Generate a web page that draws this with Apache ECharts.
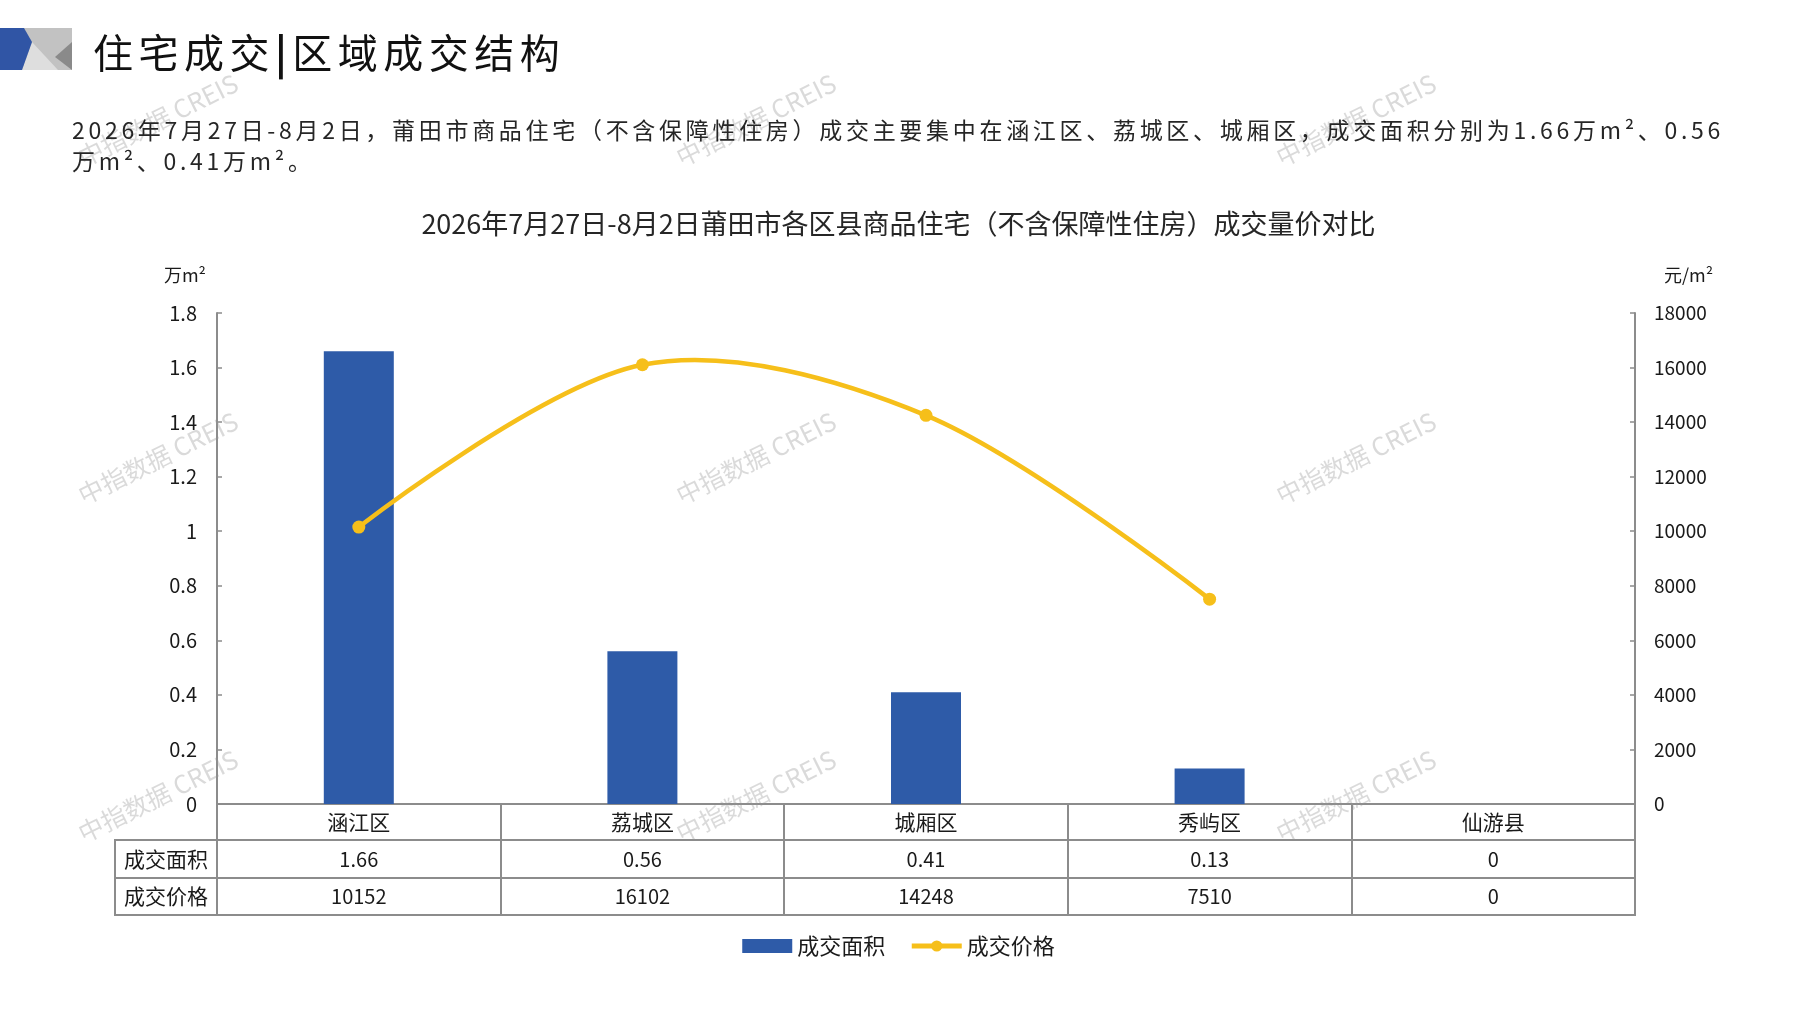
<!DOCTYPE html>
<html lang="zh">
<head>
<meta charset="UTF-8">
<title>区域成交结构</title>
<style>
    html, body {
        margin: 0;
        padding: 0;
        background: #fff;
    }

    #main {
        position: absolute;
        left: 0;
        top: 0;
        width: 1797px;
        height: 1010px;
    }

    .head {
        position: absolute;
        font-family: "Noto Sans CJK SC", "Noto Sans", sans-serif;
        white-space: nowrap;
    }
</style>
<script src="https://cdn.jsdelivr.net/npm/echarts@6/dist/echarts.min.js"></script>
</head>
<body>
<div id="main"></div>
<div class="head" style="left:93px;top:24px;font-size:40px;line-height:54px;letter-spacing:5.5px;color:#111;">住宅成交<b>|</b>区域成交结构</div>
<div class="head" style="left:72px;top:114px;font-size:23px;line-height:31px;letter-spacing:3.7px;color:#262626;">2026年7月27日-8月2日，莆田市商品住宅（不含保障性住房）成交主要集中在涵江区、荔城区、城厢区，成交面积分别为1.66万m²、0.56<br>万m²、0.41万m²。</div>
<script type="text/javascript">
    // 数据
    const districts = ['涵江区', '荔城区', '城厢区', '秀屿区', '仙游县'];
    const areaVals = [1.66, 0.56, 0.41, 0.13, 0];          // 成交面积 万m²
    const priceVals = [10152, 16102, 14248, 7510, 0];      // 成交价格 元/m²
    const rowNames = ['成交面积', '成交价格'];
    const areaAxis = {min: 0, max: 1.8, step: 0.2};
    const priceAxis = {min: 0, max: 18000, step: 2000};

    const font = '"Noto Sans CJK SC", "Noto Sans", sans-serif';
    const gray = '#8C8C8C';
    const ink = '#1a1a1a';
    const blue = '#2E5BA8';
    const yellow = '#F6BF1A';

    // 仙游县无成交，不绘制价格点
    const linePrices = priceVals.map(function (v) {
        return v > 0 ? v : null;
    });

    let chart = echarts.init(document.getElementById('main'));

    // 水印
    let marks = [];
    [158, 756, 1356].forEach(function (x) {
        [120, 458, 796].forEach(function (y) {
            marks.push({
                type: 'text',
                x: x,
                y: y,
                rotation: 0.46,
                z: 100,
                silent: true,
                style: {
                    text: '中指数据 CREIS',
                    align: 'center',
                    verticalAlign: 'middle',
                    fontSize: 25,
                    fontFamily: font,
                    fill: 'rgba(150,150,150,0.35)'
                }
            });
        });
    });

    // 左上角标志
    let logo = [
        {type: 'rect', shape: {x: 20, y: 28, width: 52, height: 42}, style: {fill: '#C2C2C2'}},
        {type: 'polygon', shape: {points: [[22, 70], [58, 70], [32, 42]]}, style: {fill: '#DEDEDE'}},
        {type: 'polygon', shape: {points: [[72, 42], [55, 57], [72, 70]]}, style: {fill: '#8A8A8A'}},
        {type: 'polygon', shape: {points: [[0, 28], [24, 28], [32, 42], [22, 70], [0, 70]]}, style: {fill: '#3055A5'}}
    ];

    let option = {
        backgroundColor: '#fff',
        textStyle: {fontFamily: font, color: ink},
        title: {
            text: '2026年7月27日-8月2日莆田市各区县商品住宅（不含保障性住房）成交量价对比',
            left: 'center',
            top: 205,
            textStyle: {fontSize: 27, fontWeight: 'normal', color: '#262626', fontFamily: font}
        },
        legend: {
            top: 930,
            left: 'center',
            itemWidth: 50,
            itemHeight: 14,
            itemGap: 24,
            textStyle: {fontSize: 22, color: ink},
            data: [
                {name: '成交面积', icon: 'rect'},
                {name: '成交价格', lineStyle: {width: 5, opacity: 1, color: yellow}}
            ]
        },
        grid: [
            {left: 217, right: 162, top: 313, bottom: 206},
            {left: 115, right: 162, top: 840, height: 75, show: true, borderColor: gray, borderWidth: 2}
        ],
        xAxis: [
            {
                type: 'category',
                gridIndex: 0,
                data: districts,
                axisLine: {lineStyle: {color: gray, width: 2}},
                axisTick: {show: true, interval: 0, length: 111, lineStyle: {color: gray, width: 2}},
                axisLabel: {
                    interval: 0,
                    margin: 0,
                    formatter: function (name, i) {
                        return '{n|' + name + '}\n{v|' + areaVals[i] + '}\n{v|' + priceVals[i] + '}';
                    },
                    rich: {
                        n: {fontSize: 21, lineHeight: 37, color: ink},
                        v: {fontSize: 20, lineHeight: 37, color: ink}
                    }
                }
            },
            {type: 'value', gridIndex: 1, show: false, min: 0, max: 1}
        ],
        yAxis: [
            {
                type: 'value',
                gridIndex: 0,
                min: areaAxis.min,
                max: areaAxis.max,
                interval: areaAxis.step,
                name: '万m²',
                nameGap: 29,
                nameTextStyle: {fontSize: 18, color: ink, align: 'right', padding: [0, 11, 0, 0]},
                axisLine: {show: true, lineStyle: {color: gray, width: 2}},
                axisTick: {show: true, inside: true, length: 5, lineStyle: {color: gray, width: 1.5}},
                axisLabel: {fontSize: 20, margin: 20, color: ink},
                splitLine: {show: false}
            },
            {
                type: 'value',
                gridIndex: 0,
                position: 'right',
                min: priceAxis.min,
                max: priceAxis.max,
                interval: priceAxis.step,
                name: '元/m²',
                nameGap: 29,
                nameTextStyle: {fontSize: 18, color: ink, align: 'left', padding: [0, 0, 0, 29]},
                axisLine: {show: true, lineStyle: {color: gray, width: 2}},
                axisTick: {show: true, inside: true, length: 5, lineStyle: {color: gray, width: 1.5}},
                axisLabel: {
                    fontSize: 19, margin: 19, color: ink,
                    formatter: function (v) {
                        return String(v);
                    }
                },
                splitLine: {show: false}
            },
            {
                type: 'category',
                gridIndex: 1,
                data: rowNames,
                inverse: true,
                axisLine: {show: false},
                axisTick: {show: false},
                axisLabel: {inside: true, margin: 9, fontSize: 21, color: ink},
                splitLine: {show: true, interval: 0, lineStyle: {color: gray, width: 2}}
            }
        ],
        graphic: logo.concat(marks),
        series: [
            {
                name: '成交面积',
                type: 'bar',
                xAxisIndex: 0,
                yAxisIndex: 0,
                barWidth: 70,
                itemStyle: {color: blue},
                data: areaVals
            },
            {
                // 价格点
                name: '成交价格',
                type: 'line',
                xAxisIndex: 0,
                yAxisIndex: 1,
                symbol: 'circle',
                symbolSize: 13,
                z: 4,
                itemStyle: {color: yellow},
                lineStyle: {width: 4.5, color: yellow, opacity: 0},
                data: linePrices
            },
            {
                // 价格曲线（不限制控制点，允许越过峰值）
                name: '成交价格',
                type: 'custom',
                xAxisIndex: 0,
                yAxisIndex: 1,
                silent: true,
                z: 3,
                data: linePrices.map(function (v, i) {
                    return [i, v];
                }),
                renderItem: function (params, api) {
                    if (params.dataIndex !== 0) {
                        return null;
                    }
                    let pts = [];
                    linePrices.forEach(function (v, i) {
                        if (v != null) {
                            pts.push(api.coord([i, v]));
                        }
                    });
                    return {
                        type: 'polyline',
                        shape: {points: pts, smooth: 0.33},
                        style: {stroke: yellow, lineWidth: 4.5, fill: null, lineCap: 'round'}
                    };
                }
            }
        ]
    };
    chart.setOption(option);
</script>
</body>
</html>
